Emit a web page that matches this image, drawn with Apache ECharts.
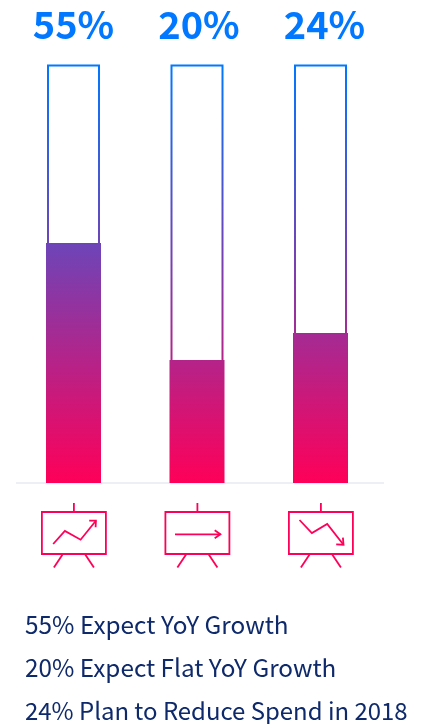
<!DOCTYPE html>
<html><head><meta charset="utf-8">
<style>html,body{margin:0;padding:0;background:#fff}#c{width:422px;height:724px}</style>
<script src="https://cdn.jsdelivr.net/npm/echarts@6/dist/echarts.min.js"></script>
</head><body><div id="c"></div>
<script>
const categories = ['Growth', 'Flat', 'Reduce'];
// Heights as drawn in the picture (share of the outlined column).
const fillValues = [57.35, 29.4, 35.85];
const outlineValues = [100, 100, 100];
const topLabels = ['55%', '20%', '24%'];
const captions = ['55% Expect YoY Growth', '20% Expect Flat YoY Growth', '24% Plan to Reduce Spend in 2018'];
const captionSizes = [24.35, 24.3, 23.95];
const trends = ['up', 'flat', 'down'];

const FONT = '"Noto Sans CJK SC","Noto Sans",sans-serif';
const PINK = '#ff0058';
const grad = () => new echarts.graphic.LinearGradient(0, 65, 0, 483, [
  {offset: 0, color: '#0078ff'}, {offset: 1, color: PINK}
], true);
const labelShift = [0, 2, 4];

const TREND_PATHS = {
  up:   {line: [[-20.7,34],[-9,21],[6.7,29.7],[22,10.7]], head: [[15.3,10.7],[22,10.7],[21.7,17.3]]},
  flat: {line: [[-22.4,24.3],[23,24.3]], head: [[17.3,20.3],[23,24.3],[17.3,28.3]]},
  down: {line: [[-21.4,10],[-9,23],[6.3,14],[22.6,34.7]], head: [[15.3,34.3],[22.6,34.7],[22,27.7]]}
};
function poly(points, cx, cy) {
  return {type: 'polyline', shape: {points: points.map(p => [cx + p[0], cy + p[1]])},
    style: {stroke: PINK, fill: null, lineWidth: 1.8}, silent: true};
}
function renderIcon(params, api) {
  const p = api.coord([api.value(0), 0]);
  const cx = p[0] + 0.4, b = p[1] + 27;
  const t = TREND_PATHS[trends[params.dataIndex]];
  return {type: 'group', children: [
    {type: 'rect', shape: {x: cx - 32, y: b + 2, width: 64, height: 42},
      style: {stroke: PINK, fill: null, lineWidth: 1.8}, silent: true},
    poly([[0,-7],[0,2]], cx, b),
    poly([[-11,44],[-20,57.5]], cx, b),
    poly([[11,44],[20,57.5]], cx, b),
    poly(t.line, cx, b),
    poly(t.head, cx, b)
  ]};
}

const chart = echarts.init(document.getElementById('c'), null, {renderer: 'canvas'});
const hiddenAxis = {type: 'category', data: categories, axisLine: {show: false}, axisTick: {show: false}, axisLabel: {show: false}};
chart.setOption({
  animation: false,
  backgroundColor: '#fff',
  grid: {left: 11.75, top: 64.5, width: 370.5, height: 418.5},
  xAxis: [Object.assign({}, hiddenAxis), Object.assign({}, hiddenAxis)],
  yAxis: {type: 'value', min: 0, max: 100, show: false, splitLine: {show: false}},
  graphic: [
    {type: 'line', shape: {x1: 16, y1: 483, x2: 384, y2: 483}, style: {stroke: '#dcdfec', lineWidth: 1}, z: 1}
  ].concat(captions.map((t, i) => ({
    type: 'text', left: 25, top: 613 + i * 43,
    style: {text: t, font: '400 ' + captionSizes[i] + 'px ' + FONT, fill: '#0f2a6b'}
  }))),
  series: [
    {type: 'bar', name: 'Fill', xAxisIndex: 0, data: fillValues, barWidth: 55, z: 3,
      itemStyle: {color: grad()}},
    {type: 'bar', name: 'Outline', xAxisIndex: 1, barWidth: 53, z: 2,
      data: outlineValues.map((v, i) => ({value: v, label: {offset: [labelShift[i], 0]}})),
      itemStyle: {color: 'rgba(0,0,0,0)', borderColor: grad(), borderWidth: 2},
      label: {show: true, position: 'top', distance: 20.5, color: '#0078ff',
        fontFamily: FONT, fontWeight: 700, fontSize: 38,
        formatter: p => topLabels[p.dataIndex]}},
    {type: 'custom', name: 'Icons', xAxisIndex: 0, data: categories.map((c, i) => [i]),
      renderItem: renderIcon, clip: false, encode: {x: 0}, z: 4}
  ]
});
</script></body></html>
